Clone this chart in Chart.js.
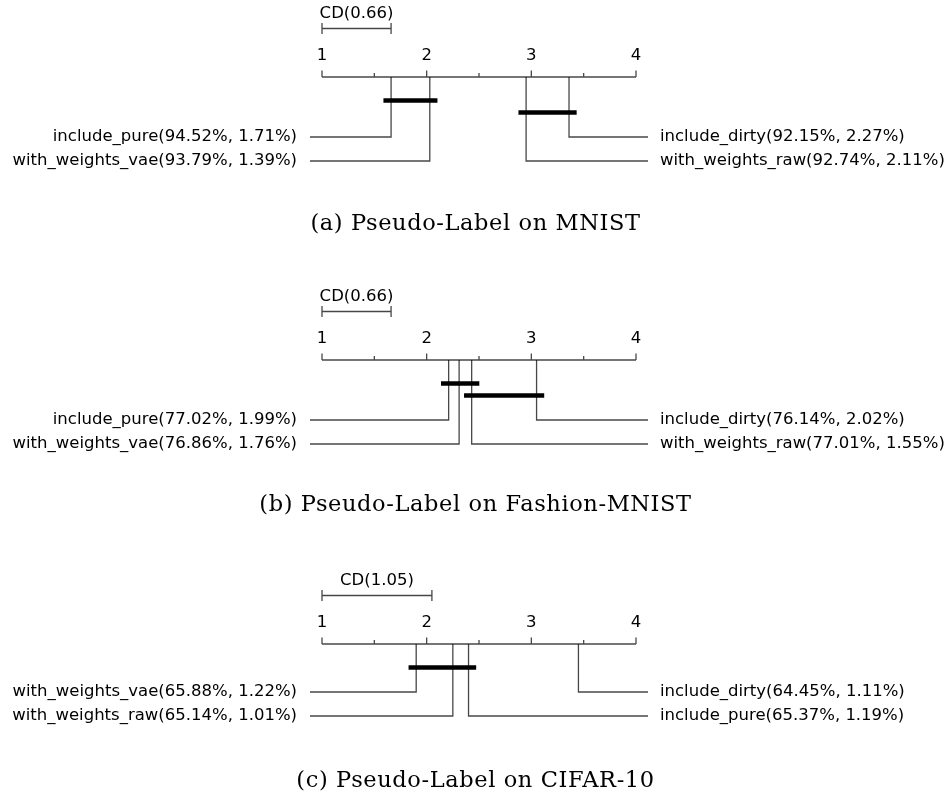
<!DOCTYPE html>
<html><head><meta charset="utf-8">
<script src="https://cdn.jsdelivr.net/npm/chart.js@4/dist/chart.umd.min.js"></script>
<style>html,body{margin:0;padding:0;background:#fff}#wrap{position:relative;width:951px;height:794px}</style>
</head><body><div id="wrap"><canvas id="c" width="951" height="794"></canvas></div>
<script>
// ---------- data ----------
const panelTitles = ['(a) Pseudo-Label on MNIST', '(b) Pseudo-Label on Fashion-MNIST', '(c) Pseudo-Label on CIFAR-10'];
const cdValues = [0.66, 0.66, 1.05];
const rankTicks = [1, 2, 3, 4];
const rankMinorTicks = [1.5, 2.5, 3.5];

// methods of each panel, sorted by average rank
const namesA = ['include_pure', 'with_weights_vae', 'with_weights_raw', 'include_dirty'];
const ranksA = [1.66, 2.03, 2.95, 3.36];
const accA = ['94.52%', '93.79%', '92.74%', '92.15%'];
const stdA = ['1.71%', '1.39%', '2.11%', '2.27%'];
const cliquesA = [[0, 1], [2, 3]];

const namesB = ['include_pure', 'with_weights_vae', 'with_weights_raw', 'include_dirty'];
const ranksB = [2.21, 2.31, 2.43, 3.05];
const accB = ['77.02%', '76.86%', '77.01%', '76.14%'];
const stdB = ['1.99%', '1.76%', '1.55%', '2.02%'];
const cliquesB = [[0, 2], [2, 3]];

const namesC = ['with_weights_vae', 'with_weights_raw', 'include_pure', 'include_dirty'];
const ranksC = [1.90, 2.25, 2.40, 3.45];
const accC = ['65.88%', '65.14%', '65.37%', '64.45%'];
const stdC = ['1.22%', '1.01%', '1.19%', '1.11%'];
const cliquesC = [[0, 2]];

// ---------- layout (not data) ----------
const AXIS_Y = [77, 360, 644];
const CAPTION_Y = [224, 505, 781];
const X_PAD = 0.1146;            // rank units beyond 1 and 4 where label lines end
const X_MIN = 1 - X_PAD, X_MAX = 4 + X_PAD;
const CLIQUE_EXT = 0.073;
const LINE_COL = 'rgba(0,0,0,0.72)';
const FONT = '16.5px "DejaVu Sans"';
const CAP_FONT = '22.5px "DejaVu Serif"';

const panels = [
  {names: namesA, ranks: ranksA, acc: accA, std: stdA, cliques: cliquesA},
  {names: namesB, ranks: ranksB, acc: accB, std: stdB, cliques: cliquesB},
  {names: namesC, ranks: ranksC, acc: accC, std: stdC, cliques: cliquesC},
];

function rowLayout(p, i) {
  const ay = AXIS_Y[i];
  const labelTop = ay + 36 + 12 * p.cliques.length;
  return {ay, labelTop, step: 24};
}

const datasets = [];
const textItems = [];
panels.forEach((p, i) => {
  const L = rowLayout(p, i);
  const n = p.ranks.length, half = n / 2;
  p.ranks.forEach((r, k) => {
    let row, edge, left;
    if (k < half) { row = k; edge = X_MIN; left = true; }
    else { row = n - 1 - k; edge = X_MAX; left = false; }
    const y = L.labelTop + row * L.step;
    datasets.push({
      data: [{x: r, y: L.ay}, {x: r, y: y}, {x: edge, y: y}],
      borderColor: LINE_COL, borderWidth: 1.3
    });
    textItems.push({text: p.names[k] + '(' + p.acc[k] + ', ' + p.std[k] + ')', xv: edge, y, left});
  });
  p.cliques.forEach((c, j) => {
    const y = L.ay + 23.5 + 12 * j;
    datasets.push({
      data: [{x: p.ranks[c[0]] - CLIQUE_EXT, y}, {x: p.ranks[c[1]] + CLIQUE_EXT, y}],
      borderColor: '#000', borderWidth: 4.3, borderCapStyle: 'butt'
    });
  });
});

const decor = {
  id: 'decor',
  afterDatasetsDraw(chart) {
    const ctx = chart.ctx, xs = chart.scales.x, ys = chart.scales.y;
    ctx.save();
    ctx.fillStyle = '#000';
    panels.forEach((p, i) => {
      const ay = ys.getPixelForValue(AXIS_Y[i]);
      // axis
      ctx.strokeStyle = LINE_COL; ctx.lineWidth = 1.3;
      ctx.beginPath();
      ctx.moveTo(xs.getPixelForValue(rankTicks[0]), ay);
      ctx.lineTo(xs.getPixelForValue(rankTicks[rankTicks.length - 1]), ay);
      rankTicks.forEach(t => { const x = xs.getPixelForValue(t); ctx.moveTo(x, ay); ctx.lineTo(x, ay - 6.5); });
      rankMinorTicks.forEach(t => { const x = xs.getPixelForValue(t); ctx.moveTo(x, ay); ctx.lineTo(x, ay - 4); });
      ctx.stroke();
      ctx.font = FONT; ctx.textAlign = 'center'; ctx.textBaseline = 'middle';
      if ('letterSpacing' in ctx) ctx.letterSpacing = '0px';
      rankTicks.forEach(t => ctx.fillText(String(t), xs.getPixelForValue(t), ay - 21));
      // CD bar
      const cy = ay - 48.5;
      const x0 = xs.getPixelForValue(rankTicks[0]), x1 = xs.getPixelForValue(rankTicks[0] + cdValues[i]);
      ctx.beginPath();
      ctx.moveTo(x0, cy); ctx.lineTo(x1, cy);
      ctx.moveTo(x0, cy - 5.5); ctx.lineTo(x0, cy + 5.5);
      ctx.moveTo(x1, cy - 5.5); ctx.lineTo(x1, cy + 5.5);
      ctx.stroke();
      ctx.fillText('CD(' + cdValues[i].toFixed(2) + ')', (x0 + x1) / 2, ay - 63);
      // caption
      ctx.font = CAP_FONT;
      if ('letterSpacing' in ctx) ctx.letterSpacing = '0.6px';
      ctx.fillText(panelTitles[i], chart.width / 2, ys.getPixelForValue(CAPTION_Y[i]));
      if ('letterSpacing' in ctx) ctx.letterSpacing = '0px';
    });
    ctx.font = FONT; ctx.textBaseline = 'middle';
    textItems.forEach(t => {
      const x = xs.getPixelForValue(t.xv);
      const y = ys.getPixelForValue(t.y);
      if (t.left) { ctx.textAlign = 'right'; ctx.fillText(t.text, x - 13, y); }
      else { ctx.textAlign = 'left'; ctx.fillText(t.text, x + 12, y); }
    });
    ctx.restore();
  }
};

new Chart(document.getElementById('c'), {
  type: 'line',
  data: {datasets: datasets.map(d => Object.assign({pointRadius: 0, tension: 0, fill: false, showLine: true}, d))},
  options: {
    responsive: false, animation: false, events: [],
    layout: {padding: {left: 310, right: 303, top: 0, bottom: 0}},
    plugins: {legend: {display: false}, tooltip: {enabled: false}},
    scales: {
      x: {type: 'linear', min: X_MIN, max: X_MAX, display: false},
      y: {type: 'linear', min: 0, max: 794, reverse: true, display: false}
    }
  },
  plugins: [decor]
});
</script>
</body></html>
